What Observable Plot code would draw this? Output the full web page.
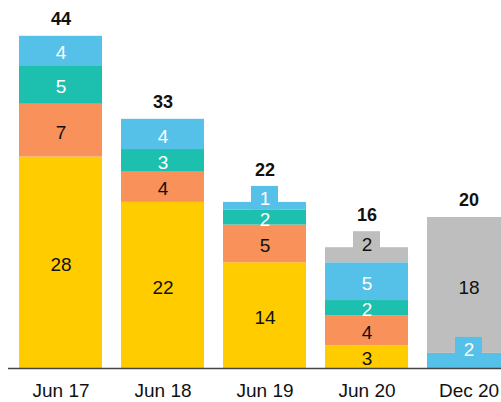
<!DOCTYPE html>
<html>
<head>
<meta charset="utf-8">
<script src="https://cdn.jsdelivr.net/npm/d3@7"></script>
<script src="https://cdn.jsdelivr.net/npm/@observablehq/plot@0.6"></script>
<style>
  html, body { margin: 0; padding: 0; background: white; overflow: hidden; }
  #chart svg { max-width: none !important; }
</style>
</head>
<body>
<div id="chart"></div>
<script>
const categories = ["Jun 17", "Jun 18", "Jun 19", "Jun 20", "Dec 20"];
const seriesNames = ["Series A", "Series B", "Series C", "Series D", "Series E"];
const seriesAValues = [28, 22, 14, 3, 0];
const seriesBValues = [7, 4, 5, 4, 0];
const seriesCValues = [5, 3, 2, 2, 0];
const seriesDValues = [4, 4, 1, 5, 2];
const seriesEValues = [0, 0, 0, 2, 18];
const totals = [44, 33, 22, 16, 20];
const seriesColors = ["#FFCC00", "#F9915A", "#1DBFAE", "#55C1E8", "#BEBEBE"];
const labelColors = ["#111", "#111", "#fff", "#fff", "#111"];

const seriesValues = [seriesAValues, seriesBValues, seriesCValues, seriesDValues, seriesEValues];

// build stacked rows
const rows = [];
categories.forEach((cat, ci) => {
  let acc = 0;
  const segs = [];
  seriesValues.forEach((vals, si) => {
    const v = vals[ci];
    if (v > 0) {
      segs.push({cat, series: seriesNames[si], si, value: v, y1: acc, y2: acc + v});
      acc += v;
    }
  });
  segs.forEach((s, k) => {
    s.edge = (k === 0 || k === segs.length - 1);
    s.boxed = s.edge && s.value <= 2 && segs.length > 1;
    rows.push(s);
  });
});
const boxedCats = new Set(rows.filter(r => r.boxed && r.y2 === totals[categories.indexOf(r.cat)]).map(r => r.cat));
const totalRows = categories.map((c, i) => ({cat: c, total: totals[i], boxed: boxedCats.has(c)}));

const font = "'Liberation Sans', Arial, sans-serif";

const chart = Plot.plot({
  width: 521,
  height: 402,
  marginLeft: 8,
  marginRight: 0,
  marginTop: 0,
  marginBottom: 34,
  style: {fontFamily: font, fontSize: "19px", color: "#111", background: "white", maxWidth: "none"},
  x: {domain: categories, paddingInner: 0.19, paddingOuter: 0.095, label: null, tickSize: 0, tickPadding: 15},
  y: {domain: [0, 48.74], axis: null},
  color: {type: "ordinal", domain: seriesNames, range: seriesColors},
  marks: [
    Plot.barY(rows, {x: "cat", y1: "y1", y2: "y2", fill: "series"}),
    Plot.barY(rows.filter(r => r.boxed), {x: "cat", y1: "y1", y2: "y2", fill: "series", insetLeft: 28, insetRight: 28, insetTop: -16}),
    Plot.text(rows.filter(r => !r.boxed), {
      x: "cat", y: r => (r.y1 + r.y2) / 2, dy: 2, text: r => String(r.value),
      fill: r => labelColors[r.si], fontSize: 19
    }),
    Plot.text(rows.filter(r => r.boxed), {
      x: "cat", y: "y2", dy: -3, text: r => String(r.value),
      fill: r => labelColors[r.si], fontSize: 19
    }),
    Plot.text(totalRows.filter(d => !d.boxed), {x: "cat", y: "total", dy: -17, text: d => String(d.total), fontSize: 18, fontWeight: "bold", fill: "#111"}),
    Plot.text(totalRows.filter(d => d.boxed), {x: "cat", y: "total", dy: -32, text: d => String(d.total), fontSize: 18, fontWeight: "bold", fill: "#111"}),
    Plot.ruleY([0], {stroke: "#444", strokeWidth: 1.5})
  ]
});
document.getElementById("chart").appendChild(chart);
</script>
</body>
</html>
